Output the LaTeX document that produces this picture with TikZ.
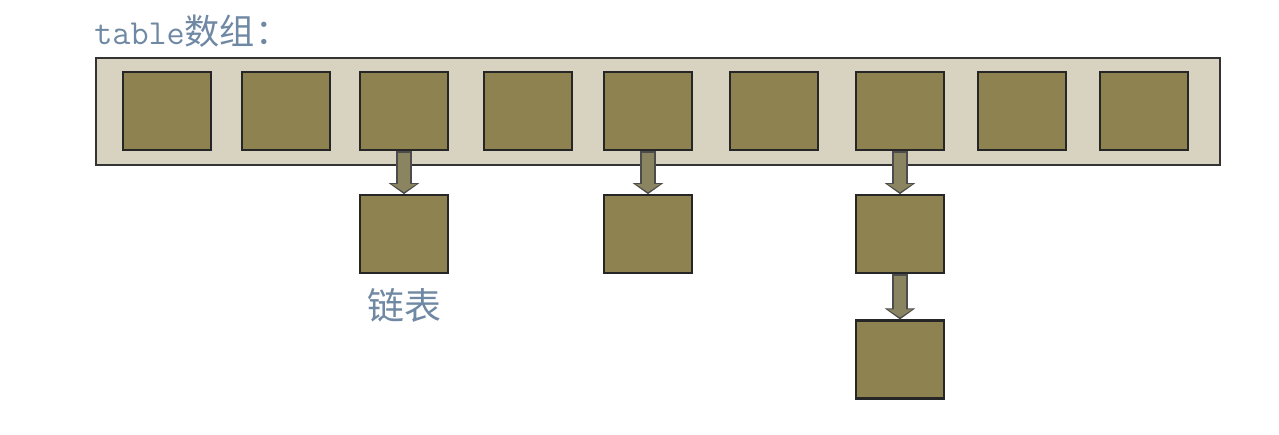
\documentclass[tikz,border=0pt]{standalone}
\usepackage{fontspec}
\newfontfamily\cjk{Noto Sans CJK SC}
\usetikzlibrary{positioning, arrows.meta}
\definecolor{cellfill}{HTML}{8E8350}
\definecolor{tablefill}{HTML}{D8D3C0}
\definecolor{arrowfill}{HTML}{8A8560}
\definecolor{labelblue}{HTML}{6F88A3}

\begin{document}
\begin{tikzpicture}[x=0.02cm, y=-0.02cm, node distance=0.86cm,
	every node/.style={inner sep=0pt},
	tablebox/.style={rectangle, draw=black!80, line width=1pt, fill=tablefill, minimum width=22.48cm, minimum height=2.14cm},
	cell/.style={rectangle, draw=black!85, line width=1.3pt, fill=cellfill, minimum width=1.76cm, minimum height=1.56cm},
	link/.style={draw=black!70, line width=0.32cm, -{Triangle[length=0.22cm, width=0.6cm]}},
	linkin/.style={draw=arrowfill, line width=0.24cm, shorten <=0.03cm, shorten >=0.04cm, -{Triangle[length=0.16cm, width=0.48cm]}},
	caption/.style={text=labelblue, font=\cjk\fontsize{21}{21}\selectfont}]
			\useasboundingbox (0,0) rectangle (1279,434);
			
			% the array
			\node[caption, anchor=west, font=\fontsize{20}{20}\selectfont] (title) at (94,31) {\ttfamily table\cjk 数组：};
			\node[tablebox] (array) at (658,111.5) {};
			\foreach \i/\x in {1/167, 2/286, 3/404, 4/528, 5/648, 6/774, 7/900, 8/1022, 9/1144}
				\node[cell] (c\i) at (\x,111) {};
			
			% the lists
			\foreach \a/\b in {c3/l3, c5/l5, c7/l7}
				\node[cell, below=of \a] (\b) {};
			\node[cell, below=0.9cm of l7] (m7) {};
			\node[caption, below=0.28cm of l3] (listlabel) {链表};
			
			\foreach \a/\b in {c3/l3, c5/l5, c7/l7, l7/m7} {
				\draw[link] (\a.south) -- (\b.north);
				\draw[linkin] (\a.south) -- (\b.north);
			}
		\end{tikzpicture}
\end{document}
